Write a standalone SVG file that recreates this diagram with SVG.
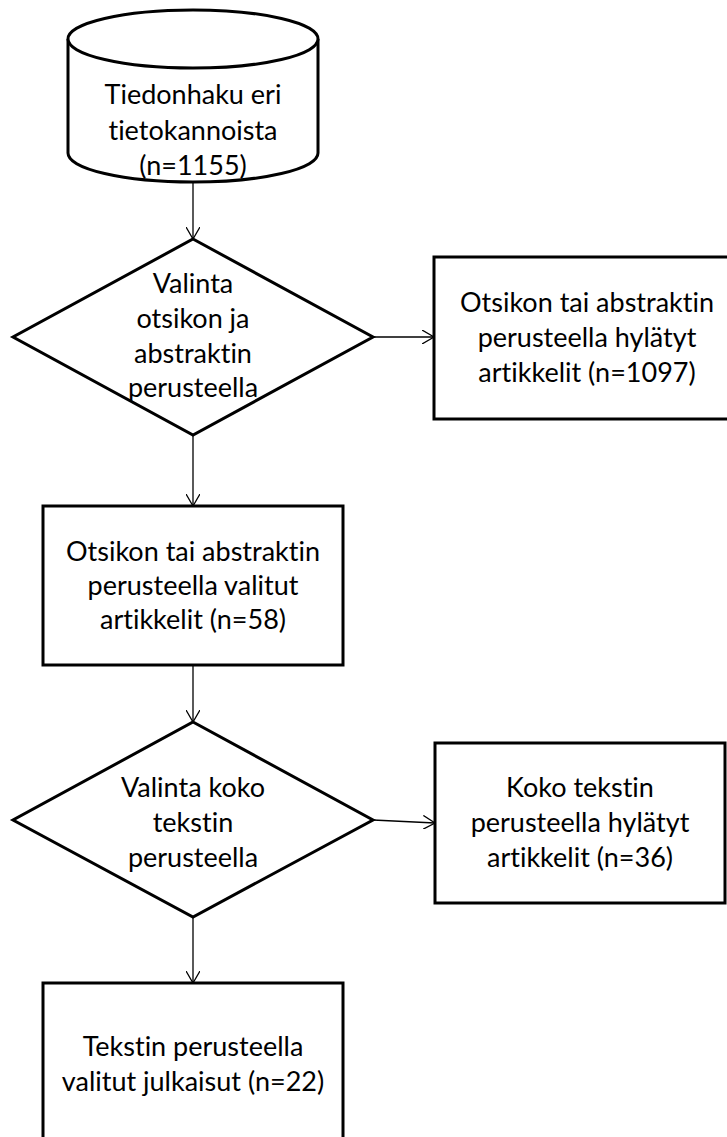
<svg xmlns="http://www.w3.org/2000/svg" width="727" height="1137" viewBox="0 0 727 1137">
<style>
.shape{fill:#fff;stroke:#000;stroke-width:3;stroke-linejoin:miter}
.conn{fill:none;stroke:#000;stroke-width:1.3}
.t{font-family:Lato,"Liberation Sans",sans-serif;font-size:27px;fill:#000;text-anchor:middle;font-variant-ligatures:none;font-feature-settings:"liga" 0,"dlig" 0}
</style>
<defs>
<marker id="arr" viewBox="0 0 12 14" refX="12" refY="7" markerWidth="12" markerHeight="14" markerUnits="userSpaceOnUse" orient="auto">
<path d="M0,0 L12,7 L0,14" fill="none" stroke="#000" stroke-width="1.3"/>
</marker>
</defs>
<g id="connectors">
<line class="conn" x1="193" y1="183" x2="193" y2="239" marker-end="url(#arr)"/>
<line class="conn" x1="193" y1="435" x2="193" y2="506" marker-end="url(#arr)"/>
<line class="conn" x1="193" y1="665" x2="193" y2="722" marker-end="url(#arr)"/>
<line class="conn" x1="193" y1="917" x2="193" y2="983" marker-end="url(#arr)"/>
<line class="conn" x1="373" y1="337" x2="434" y2="337" marker-end="url(#arr)"/>
<line class="conn" x1="373" y1="820" x2="435" y2="823" marker-end="url(#arr)"/>
</g>
<g id="db">
<path class="shape" d="M68,39 L68,153 A125,29 0 0 0 318,153 L318,39"/>
<ellipse class="shape" cx="193" cy="39" rx="125" ry="29"/>
<text class="t" x="193" y="104">Tiedonhaku eri</text>
<text class="t" x="193" y="140">tietokannoista</text>
<text class="t" x="193" y="175">(n=1155)</text>
</g>
<g id="dec1">
<polygon class="shape" points="193,239 373,337 193,435 13,337"/>
<text class="t" x="193" y="293">Valinta</text>
<text class="t" x="193" y="328">otsikon ja</text>
<text class="t" x="193" y="363">abstraktin</text>
<text class="t" x="193" y="397">perusteella</text>
</g>
<g id="rej1">
<rect class="shape" x="434" y="257" width="306" height="162"/>
<text class="t" x="587" y="312">Otsikon tai abstraktin</text>
<text class="t" x="587" y="347">perusteella hylätyt</text>
<text class="t" x="587" y="382">artikkelit (n=1097)</text>
</g>
<g id="sel1">
<rect class="shape" x="43" y="506" width="300" height="159"/>
<text class="t" x="193" y="561">Otsikon tai abstraktin</text>
<text class="t" x="193" y="595">perusteella valitut</text>
<text class="t" x="193" y="629">artikkelit (n=58)</text>
</g>
<g id="dec2">
<polygon class="shape" points="193,722 373,820 193,917 13,820"/>
<text class="t" x="193" y="797">Valinta koko</text>
<text class="t" x="193" y="832">tekstin</text>
<text class="t" x="193" y="867">perusteella</text>
</g>
<g id="rej2">
<rect class="shape" x="435" y="743" width="290" height="160"/>
<text class="t" x="580" y="797">Koko tekstin</text>
<text class="t" x="580" y="832">perusteella hylätyt</text>
<text class="t" x="580" y="867">artikkelit (n=36)</text>
</g>
<g id="final">
<rect class="shape" x="43" y="983" width="300" height="170"/>
<text class="t" x="193" y="1056">Tekstin perusteella</text>
<text class="t" x="193" y="1091">valitut julkaisut (n=22)</text>
</g>
</svg>
